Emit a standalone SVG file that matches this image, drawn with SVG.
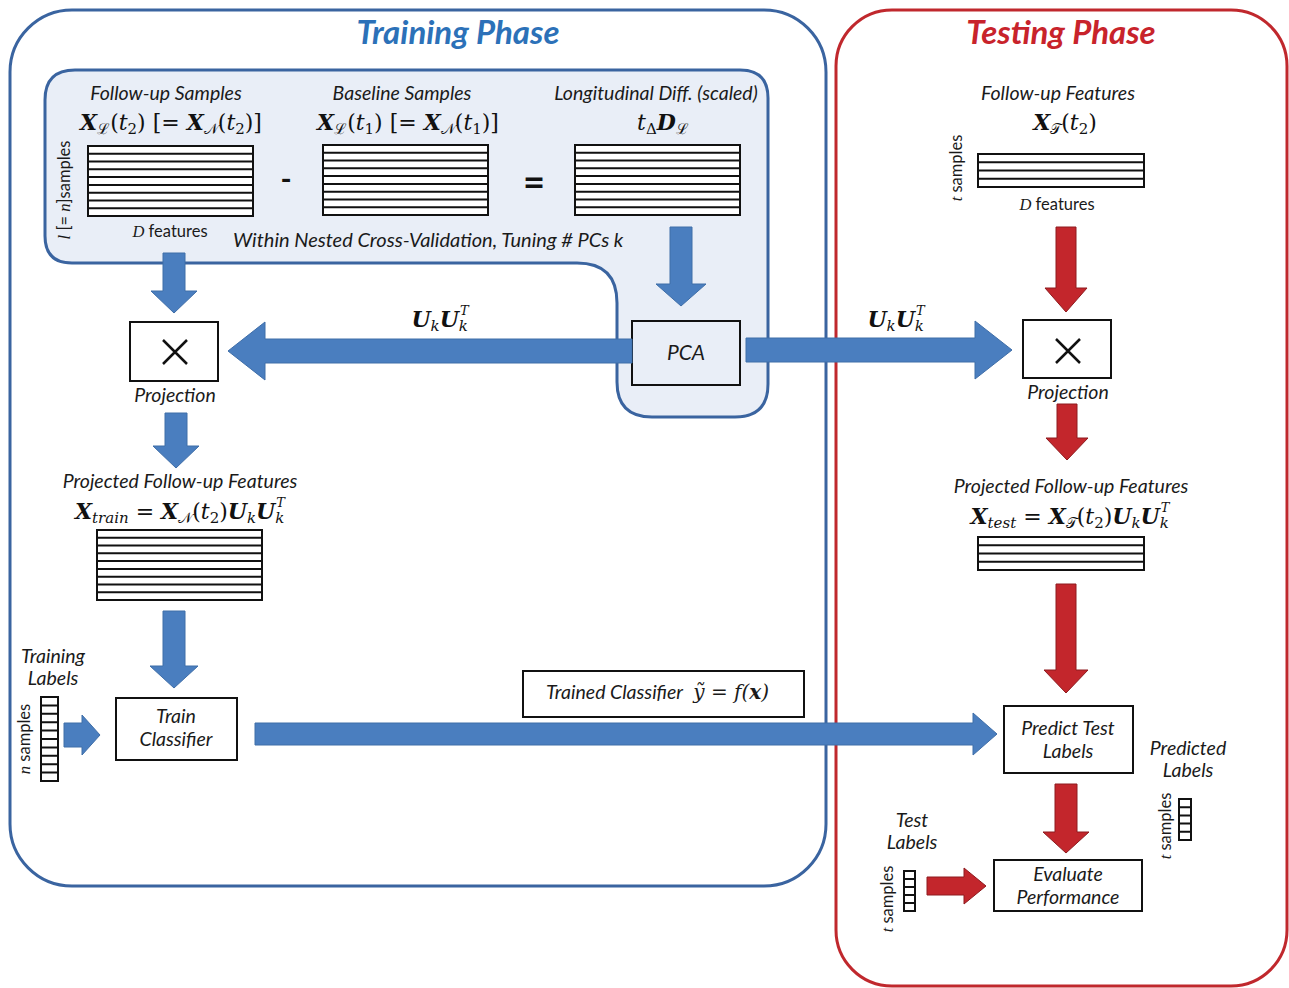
<svg xmlns="http://www.w3.org/2000/svg" width="1289" height="988" viewBox="0 0 1289 988">
<style>
.lbl{font-family:Lato,"Open Sans","Liberation Sans",sans-serif;font-style:italic;font-size:19.5px;fill:#1a1a1a}
.lbl2{font-family:Lato,"Open Sans","Liberation Sans",sans-serif;font-style:italic;font-size:21px;fill:#1a1a1a}
.sm{font-family:Lato,"Open Sans","Liberation Sans",sans-serif;font-size:16.5px;fill:#1a1a1a}
.math{font-family:"DejaVu Serif","Liberation Serif",serif;font-size:22px;fill:#111}
.bi{font-weight:bold;font-style:italic}
.it{font-style:italic}
.sub{font-size:15px}
.sup{font-size:13px;font-style:italic}
.mat{fill:#fff;stroke:#111;stroke-width:2}
.rows{fill:none;stroke:#111;stroke-width:2}
.box{fill:#fff;stroke:#111;stroke-width:2}
.ba{fill:#4a7ebf;stroke:#3f6ea8;stroke-width:1}
.ra{fill:#c3262c;stroke:#8e1a1e;stroke-width:1}
.title{font-family:Lato,"Open Sans","Liberation Sans",sans-serif;font-weight:bold;font-style:italic;font-size:33px}
</style>

<g id="training-phase">
<rect x="10" y="10" width="816" height="876" rx="62" ry="62" fill="#fff" stroke="#3a64a0" stroke-width="3"/>
<text class="title" x="458" y="44" text-anchor="middle" fill="#2c71b8">Training Phase</text>
</g>
<g id="testing-phase">
<rect x="836" y="10" width="451" height="976" rx="56" ry="56" fill="#fff" stroke="#c0282d" stroke-width="3"/>
<text class="title" x="1061" y="44" text-anchor="middle" fill="#c8232b">Testing Phase</text>
</g>

<g id="nested-cv-region">
<path d="M 75,70 H 740 Q 768,70 768,98 V 384 Q 768,417 735,417 H 652 Q 617,417 617,382 V 303 Q 617,263 577,263 H 72 Q 45,263 45,236 V 100 Q 45,70 75,70 Z" fill="#e9eef7" stroke="#3a64a0" stroke-width="3"/>
<text class="lbl" x="233" y="247" style="font-size:20px">Within Nested Cross-Validation, Tuning # PCs k</text>
</g>

<g id="followup-samples">
<text class="lbl" x="166" y="100" text-anchor="middle">Follow-up Samples</text>
<text class="math" x="171" y="130" text-anchor="middle"><tspan class="bi">X</tspan><tspan class="sub" dy="4">ℒ</tspan><tspan dy="-4">(</tspan><tspan class="it">t</tspan><tspan class="sub" dy="4">2</tspan><tspan dy="-4">) [= </tspan><tspan class="bi">X</tspan><tspan class="sub" dy="4">𝒩</tspan><tspan dy="-4">(</tspan><tspan class="it">t</tspan><tspan class="sub" dy="4">2</tspan><tspan dy="-4">)]</tspan></text>
<rect class="mat" x="88" y="146" width="165" height="70"/>
<path class="rows" d="M88 153.8H253M88 161.6H253M88 169.3H253M88 177.1H253M88 184.9H253M88 192.7H253M88 200.4H253M88 208.2H253"/>
<text class="sm" x="170" y="237" text-anchor="middle"><tspan class="it" font-family="Liberation Serif,serif">D</tspan> features</text>
<text class="sm" transform="translate(70,190) rotate(-90)" text-anchor="middle"><tspan class="it" font-family="Liberation Serif,serif">l</tspan> [= <tspan class="it" font-family="Liberation Serif,serif">n</tspan>]samples</text>
<text font-family="Lato,sans-serif" font-weight="bold" font-size="30" x="286" y="190" text-anchor="middle" fill="#111">-</text>
</g>

<g id="baseline-samples">
<text class="lbl" x="402" y="100" text-anchor="middle">Baseline Samples</text>
<text class="math" x="408" y="130" text-anchor="middle"><tspan class="bi">X</tspan><tspan class="sub" dy="4">ℒ</tspan><tspan dy="-4">(</tspan><tspan class="it">t</tspan><tspan class="sub" dy="4">1</tspan><tspan dy="-4">) [= </tspan><tspan class="bi">X</tspan><tspan class="sub" dy="4">𝒩</tspan><tspan dy="-4">(</tspan><tspan class="it">t</tspan><tspan class="sub" dy="4">1</tspan><tspan dy="-4">)]</tspan></text>
<rect class="mat" x="323" y="145" width="165" height="70"/>
<path class="rows" d="M323 152.8H488M323 160.6H488M323 168.3H488M323 176.1H488M323 183.9H488M323 191.7H488M323 199.4H488M323 207.2H488"/>
<text font-family="Lato,sans-serif" font-weight="bold" font-size="38" x="534" y="196" text-anchor="middle" fill="#111">=</text>
</g>

<g id="longitudinal-diff">
<text class="lbl" x="656" y="100" text-anchor="middle">Longitudinal Diff. (scaled)</text>
<text class="math" x="663" y="130" text-anchor="middle"><tspan class="it">t</tspan><tspan class="sub" dy="4">Δ</tspan><tspan class="bi" dy="-4">D</tspan><tspan class="sub" dy="4">ℒ</tspan></text>
<rect class="mat" x="575" y="145" width="165" height="70"/>
<path class="rows" d="M575 152.8H740M575 160.6H740M575 168.3H740M575 176.1H740M575 183.9H740M575 191.7H740M575 199.4H740M575 207.2H740"/>
</g>

<g id="pca">
<rect class="box" x="632" y="321" width="108" height="64" style="fill:#e9eef7"/>
<text class="lbl2" x="686" y="360" text-anchor="middle">PCA</text>
</g>

<g id="train-projection">
<rect class="box" x="130" y="322" width="88" height="59"/>
<path d="M163 340L187 364M187 340L163 364" stroke="#111" stroke-width="2.5" fill="none"/>
<text class="lbl" x="175" y="402" text-anchor="middle">Projection</text>
</g>

<g id="train-projected-features">
<text class="lbl" x="180" y="488" text-anchor="middle">Projected Follow-up Features</text>
<text class="math" x="180" y="519" text-anchor="middle"><tspan class="bi">X</tspan><tspan class="sub it" dy="4">train</tspan><tspan dy="-4"> = </tspan><tspan class="bi">X</tspan><tspan class="sub" dy="4">𝒩</tspan><tspan dy="-4">(</tspan><tspan class="it">t</tspan><tspan class="sub" dy="4">2</tspan><tspan dy="-4">)</tspan><tspan class="bi">U</tspan><tspan class="sub it" dy="4">k</tspan><tspan class="bi" dy="-4">U</tspan><tspan class="sub it" dy="4">k</tspan><tspan class="sup" dx="-8" dy="-16">T</tspan></text>
<rect class="mat" x="97" y="530" width="165" height="70"/>
<path class="rows" d="M97 537.8H262M97 545.6H262M97 553.3H262M97 561.1H262M97 568.9H262M97 576.7H262M97 584.4H262M97 592.2H262"/>
</g>

<g id="training-labels">
<text class="lbl" x="53" y="663" text-anchor="middle">Training</text>
<text class="lbl" x="53" y="685" text-anchor="middle">Labels</text>
<rect x="41" y="697" width="17" height="84" fill="#fff" stroke="#111" stroke-width="2"/>
<path class="rows" d="M41 705.4H58M41 713.8H58M41 722.2H58M41 730.6H58M41 739H58M41 747.4H58M41 755.8H58M41 764.2H58M41 772.6H58"/>
<text class="sm" transform="translate(30,739) rotate(-90)" text-anchor="middle"><tspan class="it" font-family="Liberation Serif,serif">n</tspan> samples</text>
</g>

<g id="train-classifier">
<rect class="box" x="116" y="698" width="121" height="62"/>
<text class="lbl" x="176" y="723" text-anchor="middle">Train</text>
<text class="lbl" x="176" y="746" text-anchor="middle">Classifier</text>
</g>

<g id="trained-classifier-label">
<rect class="box" x="523" y="671" width="281" height="46"/>
<text class="lbl" x="546" y="699">Trained Classifier <tspan font-family="DejaVu Serif,Liberation Serif,serif" font-size="20" dx="6">ỹ = </tspan><tspan font-family="DejaVu Serif,Liberation Serif,serif" font-size="20">f(</tspan><tspan font-family="DejaVu Serif,Liberation Serif,serif" font-size="20" font-weight="bold">x</tspan><tspan font-family="DejaVu Serif,Liberation Serif,serif" font-size="20">)</tspan></text>
</g>

<g id="test-followup-features">
<text class="lbl" x="1058" y="100" text-anchor="middle">Follow-up Features</text>
<text class="math" x="1065" y="130" text-anchor="middle"><tspan class="bi">X</tspan><tspan class="sub" dy="4">𝒯</tspan><tspan dy="-4">(</tspan><tspan class="it">t</tspan><tspan class="sub" dy="4">2</tspan><tspan dy="-4">)</tspan></text>
<rect class="mat" x="978" y="154" width="166" height="33"/>
<path class="rows" d="M978 162.3H1144M978 170.5H1144M978 178.8H1144"/>
<text class="sm" x="1057" y="210" text-anchor="middle"><tspan class="it" font-family="Liberation Serif,serif">D</tspan> features</text>
<text class="sm" transform="translate(962,168) rotate(-90)" text-anchor="middle"><tspan class="it" font-family="Liberation Serif,serif">t</tspan> samples</text>
</g>

<g id="test-projection">
<rect class="box" x="1023" y="320" width="88" height="58"/>
<path d="M1056 339L1080 363M1080 339L1056 363" stroke="#111" stroke-width="2.5" fill="none"/>
<text class="lbl" x="1068" y="399" text-anchor="middle">Projection</text>
</g>

<g id="test-projected-features">
<text class="lbl" x="1071" y="493" text-anchor="middle">Projected Follow-up Features</text>
<text class="math" x="1070" y="524" text-anchor="middle"><tspan class="bi">X</tspan><tspan class="sub it" dy="4">test</tspan><tspan dy="-4"> = </tspan><tspan class="bi">X</tspan><tspan class="sub" dy="4">𝒯</tspan><tspan dy="-4">(</tspan><tspan class="it">t</tspan><tspan class="sub" dy="4">2</tspan><tspan dy="-4">)</tspan><tspan class="bi">U</tspan><tspan class="sub it" dy="4">k</tspan><tspan class="bi" dy="-4">U</tspan><tspan class="sub it" dy="4">k</tspan><tspan class="sup" dx="-8" dy="-16">T</tspan></text>
<rect class="mat" x="978" y="537" width="166" height="33"/>
<path class="rows" d="M978 545.3H1144M978 553.5H1144M978 561.8H1144"/>
</g>

<g id="predict-test-labels">
<rect class="box" x="1004" y="706" width="129" height="67"/>
<text class="lbl" x="1068" y="735" text-anchor="middle">Predict Test</text>
<text class="lbl" x="1068" y="758" text-anchor="middle">Labels</text>
</g>

<g id="predicted-labels">
<text class="lbl" x="1188" y="755" text-anchor="middle">Predicted</text>
<text class="lbl" x="1188" y="777" text-anchor="middle">Labels</text>
<rect x="1179" y="799" width="12" height="41" fill="#fff" stroke="#111" stroke-width="2"/>
<path class="rows" d="M1179 807.2H1191M1179 815.4H1191M1179 823.6H1191M1179 831.8H1191"/>
<text class="sm" transform="translate(1171,826) rotate(-90)" text-anchor="middle"><tspan class="it" font-family="Liberation Serif,serif">t</tspan> samples</text>
</g>

<g id="test-labels">
<text class="lbl" x="912" y="827" text-anchor="middle">Test</text>
<text class="lbl" x="912" y="849" text-anchor="middle">Labels</text>
<rect x="904" y="871" width="11" height="40" fill="#fff" stroke="#111" stroke-width="2"/>
<path class="rows" d="M904 879H915M904 887H915M904 895H915M904 903H915"/>
<text class="sm" transform="translate(893,899) rotate(-90)" text-anchor="middle"><tspan class="it" font-family="Liberation Serif,serif">t</tspan> samples</text>
</g>

<g id="evaluate-performance">
<rect class="box" x="994" y="860" width="148" height="51"/>
<text class="lbl" x="1068" y="881" text-anchor="middle">Evaluate</text>
<text class="lbl" x="1068" y="904" text-anchor="middle">Performance</text>
</g>

<g id="connectors">
<polygon class="ba" points="163,253 185,253 185,291 197,291 174,313 151,291 163,291"/>
<polygon class="ba" points="670,227 692,227 692,284 706,284 681,306 656,284 670,284"/>
<polygon class="ba" points="165,413 187,413 187,446 199,446 176,468 153,446 165,446"/>
<polygon class="ba" points="163,611 185,611 185,666 198,666 174,688 150,666 163,666"/>
<polygon class="ba" points="64,723 82,723 82,715 100,735 82,755 82,747 64,747"/>
<polygon class="ba" points="632,339 265,339 265,322 228,351 265,380 265,363 632,363"/>
<polygon class="ba" points="746,338 975,338 975,321 1012,350 975,379 975,362 746,362"/>
<polygon class="ba" points="255,723 973,723 973,713 997,734 973,755 973,745 255,745"/>
<text class="math" x="440" y="327" text-anchor="middle"><tspan class="bi">U</tspan><tspan class="sub it" dy="4">k</tspan><tspan class="bi" dy="-4">U</tspan><tspan class="sub it" dy="4">k</tspan><tspan class="sup" dx="-8" dy="-16">T</tspan></text>
<text class="math" x="896" y="327" text-anchor="middle"><tspan class="bi">U</tspan><tspan class="sub it" dy="4">k</tspan><tspan class="bi" dy="-4">U</tspan><tspan class="sub it" dy="4">k</tspan><tspan class="sup" dx="-8" dy="-16">T</tspan></text>
<polygon class="ra" points="1056,227 1076,227 1076,288 1087,288 1066,312 1045,288 1056,288"/>
<polygon class="ra" points="1057,404 1077,404 1077,438 1088,438 1067,460 1046,438 1057,438"/>
<polygon class="ra" points="1056,584 1076,584 1076,670 1088,670 1066,693 1044,670 1056,670"/>
<polygon class="ra" points="1055,784 1077,784 1077,832 1089,832 1066,853 1043,832 1055,832"/>
<polygon class="ra" points="927,877 964,877 964,868 986,886 964,904 964,895 927,895"/>
</g>
</svg>
